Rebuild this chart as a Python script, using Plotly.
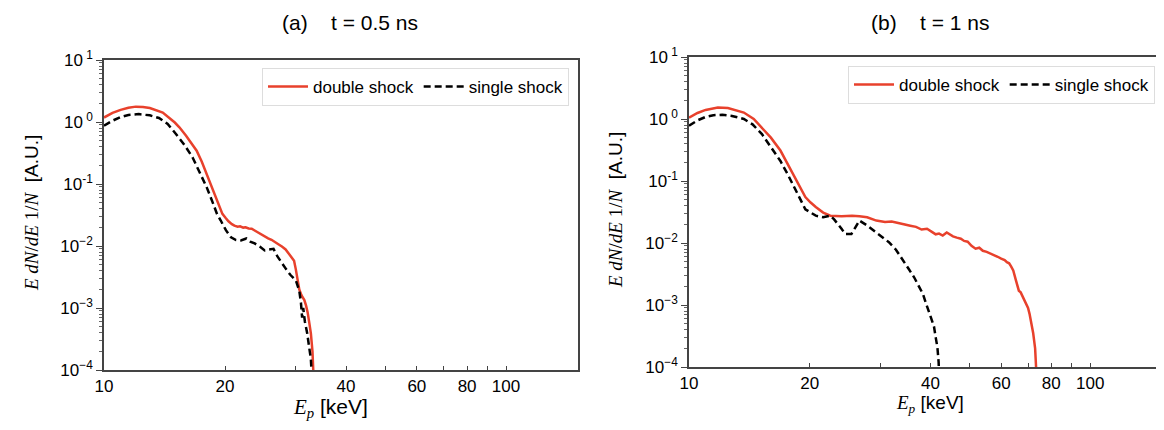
import plotly.graph_objects as go
import math

# ---------------- data ----------------
# panel (a) t = 0.5 ns
E_a_double = [10.0, 10.5, 11.0, 11.5, 12.0, 12.5, 13.0, 14.0, 15.0, 15.4, 16.0, 16.5, 17.0, 17.5, 18.0, 18.5, 18.9, 19.3, 19.7,
              20.1, 20.4, 20.8, 21.1, 21.5, 21.8, 22.2, 22.5, 22.9, 23.3, 23.7, 24.2, 24.6, 25.1, 25.6,
              26.1, 26.6, 27.2, 27.7, 28.3, 28.7, 29.0, 29.4, 29.7, 30.0, 30.3, 30.6, 31.0, 31.2, 31.5,
              31.8, 32.1, 32.4, 32.7, 33.0, 33.3]
y_a_double = [1.18, 1.40, 1.57, 1.70, 1.77, 1.75, 1.68, 1.42, 0.98, 0.82, 0.60, 0.46, 0.344, 0.23, 0.145, 0.088, 0.0615, 0.043, 0.033,
              0.028, 0.025, 0.0225, 0.0213, 0.0205, 0.0208, 0.0198, 0.0200, 0.0192, 0.0190, 0.0178, 0.0165, 0.0155, 0.0140, 0.0133,
              0.0126, 0.0118, 0.0106, 0.0098, 0.0088, 0.0078, 0.0071, 0.0064, 0.0058, 0.0042, 0.0030, 0.0020, 0.0016, 0.0015, 0.00134,
              0.0011, 0.00085, 0.00058, 0.00039, 0.00020, 0.00005]

E_a_single = [10.0, 10.5, 11.0, 11.5, 12.2, 13.0, 13.7, 14.4, 15.1, 15.8, 16.6, 17.3, 18.0, 18.6, 19.1,
              19.5, 20.1, 20.7, 21.3, 21.9, 22.3, 22.6, 23.1, 23.7, 24.4, 25.1, 25.7, 26.4, 27.0, 27.7,
              28.4, 29.1, 29.6, 30.0, 30.3, 30.6, 30.9, 31.1, 31.3, 31.6, 32.0, 32.4, 32.7, 33.0]
y_a_single = [0.87, 1.05, 1.20, 1.30, 1.34, 1.28, 1.16, 0.93, 0.64, 0.44, 0.27, 0.155, 0.089, 0.052, 0.033,
              0.026, 0.018, 0.0138, 0.0125, 0.0123, 0.0130, 0.0132, 0.0118, 0.0110, 0.0098, 0.0085, 0.0088, 0.0090, 0.0068, 0.0052,
              0.0042, 0.0034, 0.0031, 0.0028, 0.0023, 0.0019, 0.0012, 0.0007, 0.0010, 0.0006, 0.0004, 0.00023, 0.00015, 0.00005]

# panel (b) t = 1 ns
E_b_double = [10.0, 10.5, 11.0, 11.8, 12.5, 13.7, 14.5, 15.2, 16.0, 16.9, 17.6, 18.3, 18.9, 19.5, 20.1, 20.7, 21.6,
              22.5, 24.0, 25.5, 26.6, 27.8, 29.3, 30.8, 32.0, 33.0, 34.3, 35.6, 36.8, 38.0, 39.2, 40.4,
              41.2, 42.0, 42.9, 43.9, 44.7, 45.5, 46.5, 47.6, 48.5, 49.5, 50.6, 51.8, 52.9, 54.0, 55.2,
              56.4, 57.6, 58.8, 60.0, 61.2, 62.0, 62.8, 63.5, 64.3, 65.3, 66.4, 67.1, 67.8, 68.5, 69.2,
              70.0, 70.6, 71.4, 72.1, 72.9, 73.7]
y_b_double = [1.05, 1.25, 1.40, 1.53, 1.50, 1.27, 1.00, 0.73, 0.50, 0.31, 0.19, 0.115, 0.077, 0.055, 0.045, 0.038, 0.031,
              0.0276, 0.0270, 0.0276, 0.0270, 0.0260, 0.0230, 0.0219, 0.0222, 0.0210, 0.0200, 0.0190, 0.0182, 0.0165, 0.0170, 0.0150,
              0.0138, 0.0142, 0.0132, 0.0148, 0.0136, 0.0128, 0.0122, 0.0117, 0.0108, 0.0105, 0.0090, 0.0081, 0.0084, 0.0075, 0.0072,
              0.0068, 0.0064, 0.0060, 0.0056, 0.0053, 0.0049, 0.0047, 0.0042, 0.0036, 0.0025, 0.0017, 0.0016, 0.0014, 0.0012, 0.00105,
              0.0009, 0.00072, 0.0005, 0.00035, 0.0002, 0.00005]

E_b_single = [10.0, 10.5, 11.0, 11.5, 12.1, 12.8, 13.7, 14.4, 15.2, 16.0, 16.9, 17.6, 18.3, 19.0, 19.5,
              20.1, 20.7, 21.6, 22.5, 23.0, 23.5, 24.0, 24.5, 25.0, 25.4, 25.8, 26.2, 26.6, 27.7, 28.9,
              30.2, 31.5, 32.8, 34.2, 35.3, 36.4, 37.3, 38.3, 38.9, 39.5, 40.2, 40.8, 41.2, 41.6, 41.9, 42.1]
y_b_single = [0.78, 0.95, 1.08, 1.15, 1.17, 1.12, 1.00, 0.82, 0.57, 0.35, 0.21, 0.13, 0.08, 0.05, 0.035,
              0.031, 0.0276, 0.026, 0.0276, 0.024, 0.0204, 0.017, 0.014, 0.0138, 0.014, 0.0165, 0.020, 0.023, 0.0195, 0.0158,
              0.0128, 0.0103, 0.0078, 0.0053, 0.0038, 0.0028, 0.0021, 0.0015, 0.0011, 0.00083, 0.0006, 0.00045, 0.0003, 0.00021, 0.00012, 0.00005]

panel_titles = ["(a)&nbsp;&nbsp;&nbsp; t = 0.5 ns", "(b)&nbsp;&nbsp;&nbsp; t = 1 ns"]
series_names = ["double shock", "single shock"]
y_tick_vals = [10, 1, 0.1, 0.01, 0.001, 0.0001]
y_tick_text = ["10<sup> 1</sup>", "10<sup> 0</sup>", "10<sup>-1</sup>", "10<sup>−2</sup>", "10<sup>−3</sup>", "10<sup>−4</sup>"]
x_tick_vals = [10, 20, 40, 60, 80, 100]
x_tick_text = ["10", "20", "40", "60", "80", "100"]
x_minor_vals = [30, 50, 70, 90]
x_max = 151

RED = "#e8412c"
BLACK = "#000000"
FONT = "Liberation Sans, Arial, sans-serif"

# page body has an 8px margin: figure is drawn 8px in from the top-left
OFF = 8
W, H = 1164 - OFF, 430 - OFF

def px(x):
    return (x - OFF) / W

def py(y):
    return 1 - (y - OFF) / H

fig = go.Figure()

panels = [
    (E_a_double, y_a_double, E_a_single, y_a_single, "x", "y", "legend"),
    (E_b_double, y_b_double, E_b_single, y_b_single, "x2", "y2", "legend2"),
]
for Ed, yd, Es, ys, xa, ya, lg in panels:
    fig.add_trace(go.Scatter(x=Ed, y=yd, mode="lines", name=series_names[0],
                             line=dict(color=RED, width=2.5), xaxis=xa, yaxis=ya, legend=lg))
    fig.add_trace(go.Scatter(x=Es, y=ys, mode="lines", name=series_names[1],
                             line=dict(color=BLACK, width=2.5, dash="7px,4px"), xaxis=xa, yaxis=ya, legend=lg))

y_minor = [m * 10 ** k for k in range(-4, 1) for m in range(2, 10)]
x_rng = [1, math.log10(x_max)]

def xaxis(domain, anchor):
    return dict(type="log", domain=domain, range=x_rng, showgrid=False, zeroline=False, anchor=anchor,
                showline=True, mirror=True, linecolor="#444", linewidth=1.5, automargin=False,
                tickmode="array", tickvals=x_tick_vals, ticktext=x_tick_text,
                ticks="inside", ticklen=4, tickcolor="#444",
                minor=dict(tickmode="array", tickvals=x_minor_vals, ticks="inside", ticklen=4, tickcolor="#444"),
                tickfont=dict(size=17, color="#000", family=FONT))

def yaxis(domain, anchor):
    return dict(type="log", domain=domain, range=[-4, 1], showgrid=False, zeroline=False, anchor=anchor,
                showline=True, mirror=True, linecolor="#444", linewidth=1.5, automargin=False,
                tickmode="array", tickvals=y_tick_vals, ticktext=y_tick_text,
                ticks="outside", ticklen=6, tickcolor="#444",
                minor=dict(tickmode="array", tickvals=y_minor, ticks="outside", ticklen=3, tickcolor="#666"),
                tickfont=dict(size=17, color="#000", family=FONT))

legend_common = dict(orientation="h", xanchor="right", yanchor="top", bgcolor="white",
                     bordercolor="#dddddd", borderwidth=1, font=dict(size=17, family=FONT, color="#000"),
                     itemwidth=40, traceorder="normal")

fig.update_layout(
    width=W, height=H,
    margin=dict(l=0, r=0, t=0, b=0, pad=0, autoexpand=False),
    paper_bgcolor="white", plot_bgcolor="white",
    showlegend=True,
    xaxis=xaxis([px(104), px(578)], "y"),
    yaxis=yaxis([py(370), py(60)], "x"),
    xaxis2=xaxis([px(689), px(1162)], "y2"),
    yaxis2=yaxis([py(367), py(57)], "x2"),
    legend=dict(x=px(569), y=py(68), **legend_common),
    legend2=dict(x=px(1155), y=py(66), **legend_common),
)

ylabel = ('<span style="font-family:Liberation Serif, Times New Roman, serif"><i>E</i> <i>dN</i>/<i>dE</i> 1/<i>N</i></span>'
          '  [A.U.]')
xlabel = '<span style="font-family:Liberation Serif, Times New Roman, serif"><i>E<sub>p</sub></i></span> [keV]'

def ann(text, x, y, size, angle=0):
    return dict(text=text, x=px(x), y=py(y), xref="paper", yref="paper", xanchor="center", yanchor="middle",
                textangle=angle, showarrow=False, font=dict(size=size, family=FONT, color="#000"))

annotations = [
    ann(panel_titles[0], 350, 23, 21),
    ann(panel_titles[1], 930, 23, 21),
    ann(xlabel, 330, 408, 21),
    ann(xlabel, 930, 404, 19),
    ann(ylabel, 32, 213, 19, -90),
    ann(ylabel, 616, 210, 19, -90),
]
fig.update_layout(annotations=annotations)

fig.write_html("out.html")
